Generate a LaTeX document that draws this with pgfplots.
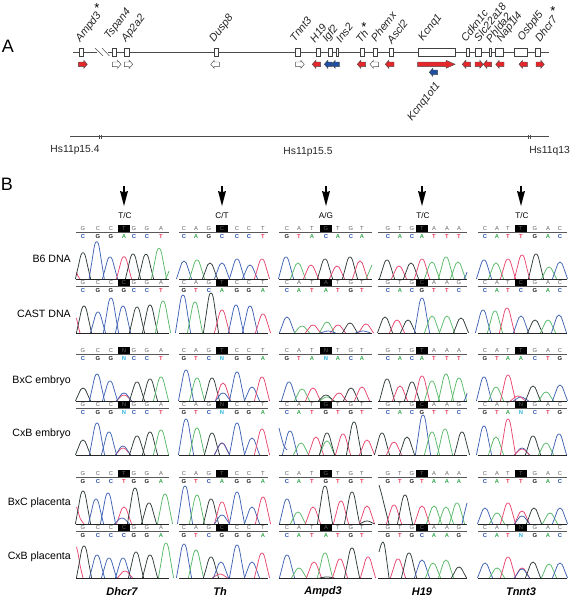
\documentclass[border=0pt]{standalone}
\usepackage{pgfplots}
\pgfplotsset{compat=1.18}
\usepackage{fontspec}
\setmainfont{Liberation Sans}
\definecolor{pk}{HTML}{2E3A3A}
\definecolor{pb}{HTML}{3F62B4}
\definecolor{pg}{HTML}{58B868}
\definecolor{pr}{HTML}{E8466F}
\definecolor{colA}{HTML}{35A84F}
\definecolor{colC}{HTML}{2F55B0}
\definecolor{colG}{HTML}{222222}
\definecolor{colT}{HTML}{E83A5C}
\definecolor{colN}{HTML}{2CB5E0}
\definecolor{aR}{HTML}{E3272B}
\definecolor{aB}{HTML}{1F4FA3}
\def\B{0}\def\W{7.6}
% one peak: colour, x of the top, y of the top
\def\peak#1#2#3{%
  \pgfmathsetmacro\pa{#2-\W}\pgfmathsetmacro\pc{#2-0.62*\W}\pgfmathsetmacro\ph{#2-0.28*\W}\pgfmathsetmacro\pi{#2+0.28*\W}\pgfmathsetmacro\pd{#2+0.62*\W}\pgfmathsetmacro\pe{#2+\W}%
  \pgfmathsetmacro\pf{\B+0.48*(#3-\B)}\pgfmathsetmacro\pj{\B+0.9*(#3-\B)}%
  \edef\tmp{\noexpand\addplot[#1,line width=0.75pt,smooth,tension=0.6] coordinates {(\pa,\B)(\pc,\pf)(\ph,\pj)(#2,#3)(\pi,\pj)(\pd,\pf)(\pe,\B)};}\tmp}
\def\pK{\peak{pk}}\def\pB{\peak{pb}}\def\pG{\peak{pg}}\def\pR{\peak{pr}}
\def\seg#1#2{\addplot[#1,line width=0.75pt,smooth] coordinates {#2};}
% gene box
\def\bx#1#2{\addplot[draw=black!75,fill=white,line width=0.5pt] coordinates {(#1,48.2)(#2,48.2)(#2,56.6)(#1,56.6)(#1,48.2)};}
% gene arrow: x0,x1,colour,head length,y ; right or left
\def\arR#1#2#3#4#5{%
  \pgfmathsetmacro\ah{#2-#4}\pgfmathsetmacro\au{#5-2.3}\pgfmathsetmacro\ad{#5+2.3}\pgfmathsetmacro\av{#5-4}\pgfmathsetmacro\aw{#5+4}%
  \edef\tmp{\noexpand\addplot[draw=black!70,fill=#3,line width=0.45pt] coordinates {(#1,\au)(\ah,\au)(\ah,\av)(#2,#5)(\ah,\aw)(\ah,\ad)(#1,\ad)(#1,\au)};}\tmp}
\def\arL#1#2#3#4#5{%
  \pgfmathsetmacro\ah{#1+#4}\pgfmathsetmacro\au{#5-2.3}\pgfmathsetmacro\ad{#5+2.3}\pgfmathsetmacro\av{#5-4}\pgfmathsetmacro\aw{#5+4}%
  \edef\tmp{\noexpand\addplot[draw=black!70,fill=#3,line width=0.45pt] coordinates {(#2,\au)(\ah,\au)(\ah,\av)(#1,#5)(\ah,\aw)(\ah,\ad)(#2,\ad)(#2,\au)};}\tmp}
% letters
\def\lt#1#2#3#4{%
  \node[inner sep=0pt,text=black!62,font=\fontsize{5.8}{6}\selectfont] at (axis cs:#2,#1-3.6) {#3};
  \node[inner sep=0pt,font=\fontsize{5.8}{6}\selectfont\bfseries,text=col#4] at (axis cs:#2,#1+4) {#4};}
\def\Lrec#1#2,#3\relax#4#5\relax#6#7\relax{\lt{#1}{#2}{#4}{#6}\ifx\relax#3\relax\else\Lrec{#1}#3\relax#5\relax#7\relax\fi}
\def\seqrow#1#2#3#4#5#6#7{% y,x0,x1,xbox,xlist,top,bottom
  \addplot[draw=black,fill=black,line width=0pt] coordinates {(#4-5.5,#1-7)(#4+5.5,#1-7)(#4+5.5,#1-0.5)(#4-5.5,#1-0.5)(#4-5.5,#1-7)};
  \addplot[color=black!65,line width=0.8pt] coordinates {(#2,#1)(#3,#1)};
  \Lrec{#1}#5\relax#6\relax#7\relax}
\def\ca#1{\seqrow{#1}{76}{169}{124}{83,98,111,124,134,147,161,}}
\def\cb#1{\seqrow{#1}{179}{268}{222}{184,196,209,222,237,249,263,}}
\def\cc#1{\seqrow{#1}{279}{372}{326}{287,299,312,326,338,351,362,}}
\def\cd#1{\seqrow{#1}{378}{467}{422}{388,400,412,422,434,447,459,}}
\def\ce#1{\seqrow{#1}{478}{567}{521}{485,497,508,521,535,548,560,}}
\def\base#1{\addplot[black!85,line width=1pt] coordinates {(76,#1)(169,#1)};
  \addplot[black!85,line width=1pt] coordinates {(179,#1)(268,#1)};
  \addplot[black!85,line width=1pt] coordinates {(279,#1)(372,#1)};
  \addplot[black!85,line width=1pt] coordinates {(378,#1)(467,#1)};
  \addplot[black!85,line width=1pt] coordinates {(478,#1)(567,#1)};}
\def\gene#1#2#3{\node[anchor=west,rotate=52,inner sep=0pt,font=\fontsize{10.8}{12}\selectfont\itshape,text=black!85] at (axis cs:#1,#2) {#3};}
\def\rowlab#1#2{\node[anchor=east,inner sep=0pt,font=\fontsize{10.6}{12}\selectfont,text=black] at (axis cs:71,#1) {#2};}
\def\allele#1#2{\node[inner sep=0pt,font=\fontsize{8.2}{9}\selectfont] at (axis cs:#1,216) {#2};}
\def\gn#1#2{\node[inner sep=0pt,font=\fontsize{11}{12}\selectfont\bfseries\itshape] at (axis cs:#1,592) {#2};}
\def\downarr#1{\addplot[draw=none,fill=black] coordinates {(#1-0.9,186)(#1+0.9,186)(#1+0.9,192)(#1+4,191)(#1,206)(#1-4,191)(#1-0.9,192)(#1-0.9,186)};}
\begin{document}
\begin{tikzpicture}
\begin{axis}[scale only axis,width=572pt,height=598pt,xmin=0,xmax=572,ymin=0,ymax=598,y dir=reverse,axis lines=none,clip=false,tick=none]
\path (axis cs:0,0) rectangle (axis cs:572,598);
% ---- panel A lines
\addplot[black!70,line width=0.6pt] coordinates {(73,52.3)(97,52.3)};
\addplot[black!70,line width=0.6pt] coordinates {(108,52.3)(549,52.3)};
\addplot[black!70,line width=0.5pt] coordinates {(95,48)(103,56)};
\addplot[black!70,line width=0.5pt] coordinates {(102,48)(109.5,56)};
\addplot[black!70,line width=0.6pt] coordinates {(70,136.5)(549,136.5)};
\addplot[black!70,line width=0.5pt] coordinates {(99.3,134.5)(99.3,138.5)};
\addplot[black!70,line width=0.5pt] coordinates {(101,134.5)(101,138.5)};
\addplot[black!70,line width=0.5pt] coordinates {(528.3,134.5)(528.3,138.5)};
\addplot[black!70,line width=0.5pt] coordinates {(530.5,134.5)(530.5,138.5)};
\bx{79.3}{83.3}\bx{112.7}{116.7}\bx{124.3}{129}\bx{214.3}{218.3}\bx{295.7}{300.3}\bx{316.3}{320.3}\bx{328.3}{332.3}\bx{336.7}{338.7}\bx{360.3}{364.7}\bx{373}{377.3}\bx{389.3}{393.7}\bx{418}{455}\bx{466.3}{469}\bx{475}{481.7}\bx{489.3}{491.7}\bx{495.7}{503.7}\bx{514.7}{527.3}\bx{535.3}{540.3}
\arR{78.3}{87.3}{aR}{3.5}{64.3}
\arR{112.3}{121}{white}{3.5}{64.3}
\arR{124.3}{132.7}{white}{3.5}{64.3}
\arL{210.7}{219.3}{white}{3.5}{64.3}
\arR{295.7}{304.3}{white}{3.5}{64.3}
\arL{312.3}{320.7}{aR}{3.5}{64.3}
\arL{324.3}{332.3}{aB}{3.5}{64.3}
\arL{331.7}{339.3}{aB}{3.5}{64.3}
\arL{357.3}{365.7}{aR}{3.5}{64.3}
\arL{370}{378.7}{white}{3.5}{64.3}
\arL{385.3}{394}{aR}{3.5}{64.3}
\arR{417.7}{455}{aR}{9}{64.3}
\arL{429.3}{437.7}{aB}{3.5}{72.3}
\arL{462.3}{470.7}{aR}{3.5}{64.3}
\arR{475}{483.3}{aR}{3.5}{64.3}
\arL{483.3}{491.7}{aR}{3.5}{64.3}
\arL{495.7}{504}{aR}{3.5}{64.3}
\arL{519}{527.3}{aR}{3.5}{64.3}
\arR{536}{544.3}{aR}{3.5}{64.3}
\gene{78}{41}{Ampd3}\gene{107}{38}{Tspan4}\gene{124}{41}{Ap2a2}\gene{212}{41}{Dusp8}\gene{292}{40}{Tnnt3}\gene{312}{41}{H19}\gene{325}{41}{Igf2}\gene{338}{41}{Ins2}\gene{358}{41}{Th}\gene{373}{40}{Phemx}\gene{389}{42}{Ascl2}\gene{421}{40}{Kcnq1}\gene{463}{40}{Cdkn1c}\gene{476}{40}{Slc22a18}\gene{488}{41}{Phlda2}\gene{499}{41}{Nap1l4}\gene{520}{40}{Osbpl5}\gene{537}{40}{Dhcr7}\gene{410}{120}{Kcnq1ot1}
\node[inner sep=0pt,font=\fontsize{13}{13}\selectfont] at (axis cs:97,8) {*};
\node[inner sep=0pt,font=\fontsize{13}{13}\selectfont] at (axis cs:364,27) {*};
\node[inner sep=0pt,font=\fontsize{13}{13}\selectfont] at (axis cs:553,11) {*};
\node[inner sep=0pt,font=\fontsize{10.3}{12}\selectfont,text=black!85] at (axis cs:75,150.5) {Hs11p15.4};
\node[inner sep=0pt,font=\fontsize{10.3}{12}\selectfont,text=black!85] at (axis cs:308,152) {Hs11p15.5};
\node[inner sep=0pt,font=\fontsize{10.3}{12}\selectfont,text=black!85] at (axis cs:549.5,150.5) {Hs11q13};
\node[inner sep=0pt,font=\fontsize{18}{18}\selectfont] at (axis cs:8,46) {A};
\node[inner sep=0pt,font=\fontsize{18}{18}\selectfont] at (axis cs:7,184) {B};
% ---- arrows and alleles
\downarr{124}\downarr{222}\downarr{326}\downarr{422}\downarr{521}
\allele{125}{T/C}\allele{222}{C/T}\allele{326}{A/G}\allele{423}{T/C}\allele{522}{T/C}
\rowlab{259}{B6 DNA}\rowlab{314}{CAST DNA}\rowlab{381}{BxC embryo}\rowlab{434}{CxB embryo}\rowlab{503}{BxC placenta}\rowlab{557}{CxB placenta}
\gn{122}{Dhcr7}\gn{220}{Th}\gn{323}{Ampd3}\gn{422}{H19}\gn{521}{Tnnt3}
% ---- row 1: B6 DNA
\def\B{279}
\seg{pr}{(76.5,272)(78,276)(80,279)}
\pK{83}{252.7}\pB{96.7}{241.7}\pB{110}{257}\pR{124}{256.7}\pK{133}{254}\pK{146}{254.3}\pG{159}{248.3}
\seg{pg}{(165.5,279)(167.5,275)(169,271)}
\pB{184}{261}\pG{197}{260}\pK{210}{263}\pB{222}{263}\pB{237}{259}\pB{250}{265}\pR{262}{259}
\pB{286}{257}\pG{298}{263}\pR{311}{265}\pK{325}{259}\pR{337}{266}\pK{350}{257}\pR{360}{261}
\seg{pg}{(366,279)(369,272)(372,265)}
\pK{387}{260}\pR{399}{266}\pK{411}{263}\pR{422}{259}\pG{432}{262}\pG{446}{257}\pG{458}{262}
\seg{pb}{(464,279)(466,275)(467,272)}
\pB{484}{260}\pG{496}{263}\pR{508}{259}\pR{522}{255}\pK{536}{254}\pG{549}{267}\pB{560}{262}
\base{279}
\ca{232}{GCCTGGA}{CGGACCT}
\cb{232}{CAGCCCT}{CAGCCCT}
\cc{232}{CATGTGT}{GTACACA}
\cd{232}{GTGTAAA}{CACATTT}
\ce{232}{CATTGAC}{CATTGAC}
% ---- row 2: CAST DNA
\def\B{333}
\seg{pr}{(76.5,318)(78,325)(80,333)}
\pK{84}{306}\pB{98}{312}\pB{111}{298}\pB{123}{306}\pK{137}{307}\pK{150}{305}\pG{163}{301}
\pB{183}{295}\pG{195}{302}\pK{211}{293}\pR{222}{310}\pB{236}{305}\pB{250}{306}\pR{263}{314}
\pB{287}{317}\pG{302}{326}\pR{313}{325}\pG{327}{322}\pR{338}{325}\pK{350}{323}\pR{366}{324}
\pB{328}{331}\pB{363}{331}
\pK{385}{317}\pR{397}{320}\pK{408}{320}\pB{422}{298}\pG{432}{316}\pG{447}{316}\pK{461}{318}
\pB{483}{310}\pG{495}{311}\pR{507}{308}\pB{521}{316}\pK{535}{320}\pG{548}{320}\pB{559}{315}
\base{333}
\ca{286}{GCCCGGA}{CGGGCCT}
\cb{286}{CAGTCCT}{GTCAGGA}
\cc{286}{CATATGT}{CATATGT}
\cd{286}{GTGCAAG}{CACGTTC}
\ce{286}{CATCGAC}{CATCGAC}
% ---- row 3: BxC embryo
\def\B{401}
\pK{83}{388}\pB{97}{374}\pB{110}{381}\pR{124}{395}\pB{124}{393}\pK{137}{382}\pK{150}{379}\pG{161}{377}
\pB{186}{370}\pG{197}{378}\pK{212}{378}\pR{223}{383}\pB{223}{393}\pB{237}{372}\pB{252}{387}\pR{262}{377}
\pB{289}{382}\pG{302}{389}\pR{313}{388}\pG{327}{397}\pK{326}{395}\pR{339}{393}\pK{351}{388}\pR{362}{387}
\pK{387}{379}\pR{400}{386}\pK{412}{382}\pR{422}{376}\pG{432}{381}\pG{446}{374}\pG{459}{378}
\seg{pb}{(464,401)(466,397)(467,393)}
\pB{484}{377}\pG{496}{387}\pR{508}{375}\pB{521}{397}\pR{518}{396}\pK{533}{386}\pG{546}{392}\pB{560}{385}
\base{401}
\ca{354}{GCCNGGA}{CGGNCCT}
\cb{354}{CAGTCCT}{GTCNGGA}
\cc{354}{CATNTGT}{GTANACA}
\cd{354}{GTGTAAA}{CACATTT}
\ce{354}{CATTGAC}{GTAACTG}
% ---- row 4: CxB embryo
\def\B{455}
\pK{83}{440}\pB{97}{423}\pB{109}{432}\pR{123}{448}\pB{123}{446}\pK{137}{436}\pK{150}{432}\pG{161}{430}
\pB{186}{419}\pG{197}{428}\pK{212}{433}\pR{222}{443}\pB{222}{443}\pB{237}{423}\pB{252}{438}\pR{262}{429}
\seg{pb}{(279,428)(281,436)(284,446)(287,450)}
\pB{290}{431}\pG{301}{443}\pR{316}{437}\pG{327}{441}\pK{327}{433}\pR{343}{434}\pK{354}{422}\pR{367}{440}
\pK{382}{433}\pR{394}{442}\pK{407}{437}\pB{423}{415}\pG{432}{432}\pG{445}{429}\pK{462}{432}
\pB{484}{426}\pG{496}{437}\pR{508}{419}\pB{522}{448}\pR{522}{449}\pK{533}{436}\pG{546}{443}\pB{559}{434}
\base{455}
\ca{408}{GCCNGGA}{CGGNCCT}
\cb{408}{CAGNCCT}{GTCNGGA}
\cc{408}{CATGTGT}{CATGTGT}
\cd{408}{GTGCAAG}{CACGTTC}
\ce{408}{CATNGAC}{GTANCTG}
% ---- row 5: BxC placenta
\def\B{524}
\seg{pr}{(76.5,507)(78,511)(80,518)(84,524)}
\pK{83}{491}\pB{96}{499}\pB{108}{493}\pR{124}{507}\pB{122}{518}\pK{135}{488}\pK{149}{503}\pG{165}{494}
\pB{185}{486}\pG{197}{495}\pK{211}{499}\pR{222}{502}\pB{222}{515}\pB{237}{492}\pB{252}{507}\pR{263}{497}
\pB{287}{499}\pG{298}{512}\pR{313}{507}\pK{325}{486}\pR{341}{501}\pK{352}{492}\pR{367}{506}\pK{367}{521}
\seg{pk}{(379,485)(381,492)(385,508)(389,524)}
\pR{394}{505}\pK{405}{495}\pR{422}{506}\pG{434}{506}\pG{446}{507}\pG{457}{503}
\seg{pb}{(462,524)(464,515)(467,503)}
\pB{485}{508}\pG{497}{513}\pR{508}{503}\pR{522}{511}\pB{522}{516}\pK{534}{508}\pG{550}{513}\pB{560}{508}
\base{524}
\ca{477}{GCCTGGA}{GCCTGGA}
\cb{477}{CAGTCCT}{GTCAGGA}
\cc{477}{CATGTGT}{CATGTGT}
\cd{477}{GTGTAAA}{GTGTAAA}
\ce{477}{CATTGAC}{CATTGAC}
% ---- row 6: CxB placenta
\def\B{578}
\seg{pr}{(76.5,547)(78,553)(80,565)(83,578)}
\pK{84}{546}\pB{97}{555}\pB{109}{558}\pB{123}{558}\pR{125}{571}\pK{136}{552}\pK{150}{555}\pG{166}{543}
\pB{184}{544}\pG{196}{550}\pK{211}{557}\pR{220}{574}\pB{221}{562}\pB{237}{545}\pB{252}{562}\pR{262}{553}
\pB{287}{555}\pG{299}{568}\pR{314}{562}\pG{325}{553}\pK{327}{577}\pR{340}{559}\pK{352}{548}\pR{368}{557}
\seg{pk}{(379,552)(381,545)(383,542)(385,548)(389,578)}
\pR{398}{559}\pK{409}{553}\pB{422}{560}\pG{433}{563}\pG{446}{560}\pK{459}{567}
\pB{485}{563}\pG{497}{568}\pR{508}{557}\pR{522}{568}\pB{522}{569}\pK{533}{562}\pG{549}{564}\pB{560}{563}
\base{578}
\ca{531}{GCCCGGA}{GCCCGGA}
\cb{531}{CAGCCCT}{GTCGGGA}
\cc{531}{CATATGT}{CATATGT}
\cd{531}{GTGCAAG}{GTGCAAG}
\ce{531}{CATNGAC}{CATNGAC}
\end{axis}
\end{tikzpicture}
\end{document}
